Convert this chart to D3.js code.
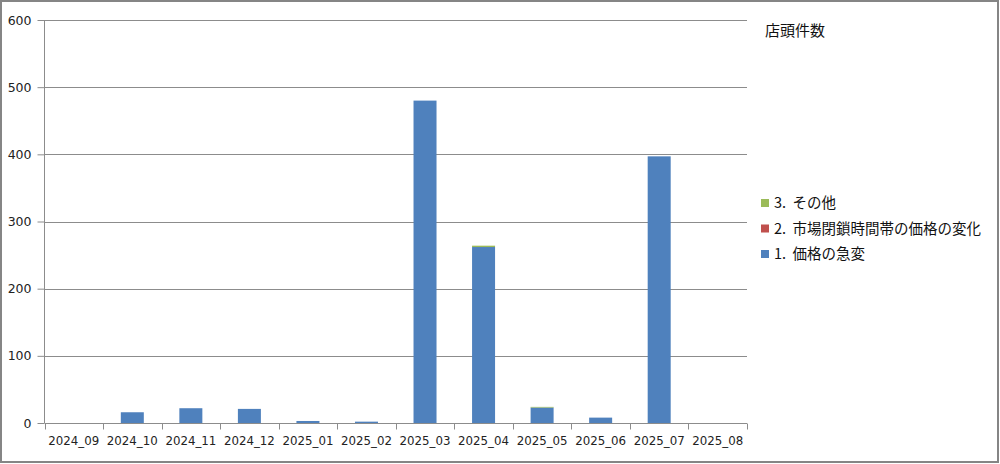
<!DOCTYPE html>
<html><head><meta charset="utf-8">
<script src="https://cdn.jsdelivr.net/npm/d3@7/dist/d3.min.js"></script>
<style>
html,body{margin:0;padding:0;background:#fff;}
svg{display:block;}
</style></head>
<body>
<svg id="c" width="1000" height="464"></svg>
<script>
const categories = ["2024_09","2024_10","2024_11","2024_12","2025_01","2025_02","2025_03","2025_04","2025_05","2025_06","2025_07","2025_08"];
const seriesNames = ["1. 価格の急変","2. 市場閉鎖時間帯の価格の変化","3. その他"];
const seriesColors = ["#4f81bd","#c0504d","#9bbb59"];
const priceJump = [0,16,22,21,3,2,480,262,23,8,397,0];
const marketClosed = [0,0,0,0,0,0,0,0,0,0,0,0];
const other = [0,0,0,0,0,0,0,2,1,0,0,0];
const yTicks = [0,100,200,300,400,500,600];
const legendTitle = "店頭件数";

const svg = d3.select("#c");
const font = "'DejaVu Sans', Verdana, sans-serif";
const cjk = "'Noto Sans CJK JP', sans-serif";

// outer frame
svg.append("rect").attr("x",1).attr("y",1).attr("width",997).attr("height",461)
  .attr("fill","#fff").attr("stroke","#858585").attr("stroke-width",2);

const L = 44.5, R = 747, T = 20, B = 423;
const xb = d3.scaleBand().domain(categories).range([L,R]);
const y = d3.scaleLinear().domain([0,600]).range([B,T]);

// gridlines
svg.append("g").selectAll("line").data(yTicks.filter(d=>d>0)).join("line")
  .attr("x1",L).attr("x2",R).attr("y1",d=>Math.round(y(d))+0.5).attr("y2",d=>Math.round(y(d))+0.5)
  .attr("stroke","#8c8c8c").attr("stroke-width",1);

// stacked bars
const rows = categories.map((c,i)=>({cat:c, s0:priceJump[i], s1:marketClosed[i], s2:other[i]}));
const stack = d3.stack().keys(["s0","s1","s2"])(rows);
const barW = 23;
svg.append("g").selectAll("g").data(stack).join("g")
  .attr("fill",(d,i)=>seriesColors[i])
  .selectAll("rect").data(d=>d).join("rect")
  .attr("x",d=>xb(d.data.cat)+xb.bandwidth()/2-barW/2)
  .attr("width",barW)
  .attr("y",d=>y(d[1]))
  .attr("height",d=>Math.max(0,y(d[0])-y(d[1])));

// y axis
const yAxis = d3.axisLeft(y).tickValues(yTicks).tickSize(7).tickPadding(6);
const gy = svg.append("g").attr("transform",`translate(${L},0)`).call(yAxis);
gy.select(".domain").attr("stroke","#8c8c8c").attr("d",`M-0.0,${T}V${B}`);
gy.selectAll(".tick line").attr("stroke","#8c8c8c").attr("x1",-7).attr("x2",0);
gy.selectAll("text").attr("font-family",font).attr("font-size",12.5).attr("fill","#222");

// x axis
const gx = svg.append("g").attr("transform",`translate(0,${B+0.5})`);
gx.append("line").attr("x1",L).attr("x2",R).attr("stroke","#8c8c8c");
const edges = categories.map(c=>xb(c)).concat([R]);
gx.selectAll("line.t").data(edges).join("line").attr("class","t")
  .attr("x1",d=>Math.round(d)+0.5).attr("x2",d=>Math.round(d)+0.5).attr("y1",0).attr("y2",6).attr("stroke","#8c8c8c");
gx.selectAll("text").data(categories).join("text")
  .attr("x",d=>xb(d)+xb.bandwidth()/2).attr("y",21)
  .attr("text-anchor","middle").attr("font-family",font).attr("font-size",11.8).attr("fill","#222")
  .text(d=>d);

// legend
svg.append("text").attr("x",765).attr("y",36).attr("font-family",cjk).attr("font-size",15).attr("fill","#111").text(legendTitle);
const legOrder = [2,1,0];
const lg = svg.append("g").selectAll("g").data(legOrder).join("g")
  .attr("transform",(d,i)=>`translate(761,${199+i*25.5})`);
lg.append("rect").attr("width",8).attr("height",8).attr("fill",d=>seriesColors[d]);
lg.append("text").attr("x",13).attr("y",9).attr("font-family",cjk).attr("font-size",14.5).attr("fill","#111")
  .attr("xml:space","preserve").text(d=>seriesNames[d].replace(". ",".  "));
</script>
</body></html>
